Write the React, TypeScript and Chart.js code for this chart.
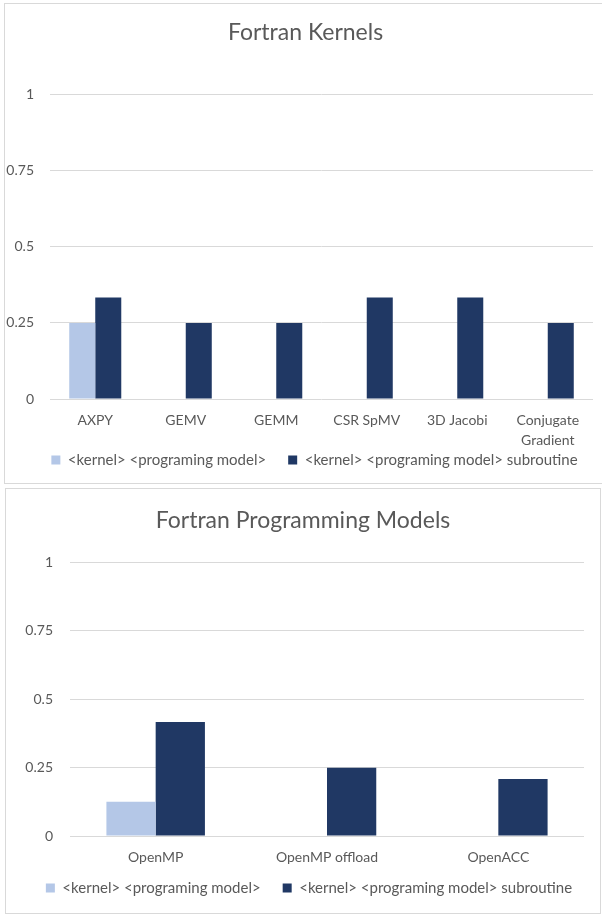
import React, { useEffect, useRef } from 'react';
import { Chart, registerables } from 'chart.js';

Chart.register(...registerables);

const kernelCategories: (string | string[])[] = ['AXPY', 'GEMV', 'GEMM', 'CSR SpMV', '3D Jacobi', ['Conjugate', 'Gradient']];
const kernelPlain = [0.25, 0, 0, 0, 0, 0];
const kernelSubroutine = [0.3333, 0.25, 0.25, 0.3333, 0.3333, 0.25];

const modelCategories: string[] = ['OpenMP', 'OpenMP offload', 'OpenACC'];
const modelPlain = [0.125, 0, 0];
const modelSubroutine = [0.4167, 0.25, 0.2083];

const seriesNames = ['<kernel> <programing model>', '<kernel> <programing model> subroutine'];
const yTickValues = [0, 0.25, 0.5, 0.75, 1];

const FONT = 'Lato, "Open Sans", sans-serif';
const TEXT = '#595959';
const GRID = '#d9d9d9';
const LIGHT = '#b4c7e7';
const DARK = '#203864';
const LEGEND_PAD = 22;
const LEGEND_FONT = 15;

interface Geo {
  titlePadTop: number;
  titlePadBottom: number;
  yWidth: number;
  yPad: number;
  xHeight: number;
  xPad: number;
  padRight: number;
  padBottom: number;
  legendReserve: number;
  legendCenter: number;
  titleShift: number;
  legendShift: number;
}

// Moves the title / legend boxes after Chart.js has laid them out.
const boxShift = {
  id: 'boxShift',
  afterLayout(chart: any, _args: any, opts: any) {
    const t = chart.titleBlock;
    if (t && opts.titleShift) {
      t.left += opts.titleShift;
      t.right += opts.titleShift;
    }
    const lg = chart.legend;
    if (lg) {
      lg.top = opts.legendCenter - LEGEND_PAD - LEGEND_FONT / 2;
      lg.height = 60;
      lg.bottom = lg.top + 60;
      lg.left += opts.legendShift || 0;
      lg.right += opts.legendShift || 0;
    }
  },
};

function makeConfig(title: string, labels: any[], plain: number[], sub: number[], g: Geo): any {
  return {
    type: 'bar',
    data: {
      labels,
      datasets: [
        { label: seriesNames[0], data: plain, backgroundColor: LIGHT, borderWidth: 0, categoryPercentage: 0.575, barPercentage: 1 },
        { label: seriesNames[1], data: sub, backgroundColor: DARK, borderWidth: 0, categoryPercentage: 0.575, barPercentage: 1 },
      ],
    },
    plugins: [boxShift],
    options: {
      animation: false,
      responsive: false,
      maintainAspectRatio: false,
      layout: { padding: { left: 0, right: g.padRight, top: 0, bottom: g.padBottom } },
      plugins: {
        boxShift: { titleShift: g.titleShift, legendShift: g.legendShift, legendCenter: g.legendCenter },
        title: {
          display: true,
          text: title,
          color: TEXT,
          font: { family: FONT, size: 23, weight: 'normal', lineHeight: 1.2 },
          padding: { top: g.titlePadTop, bottom: g.titlePadBottom },
        },
        legend: {
          position: 'bottom',
          maxHeight: g.legendReserve,
          labels: {
            color: TEXT,
            font: { family: FONT, size: LEGEND_FONT },
            boxWidth: 9,
            boxHeight: 9,
            padding: LEGEND_PAD,
          },
        },
        tooltip: { enabled: false },
      },
      scales: {
        x: {
          grid: { display: false, drawTicks: false },
          border: { display: false },
          ticks: { color: TEXT, font: { family: FONT, size: 14, lineHeight: 1.4 }, padding: g.xPad, maxRotation: 0, autoSkip: false },
          afterFit: (s: any) => { s.height = g.xHeight; },
        },
        y: {
          min: 0,
          max: 1,
          grid: { color: GRID, lineWidth: 1, drawTicks: false },
          border: { display: false },
          afterBuildTicks: (s: any) => { s.ticks = yTickValues.map((v) => ({ value: v })); },
          ticks: {
            color: TEXT,
            font: { family: FONT, size: 14 },
            padding: g.yPad,
            callback: (v: any) => String(v),
          },
          afterFit: (s: any) => { s.width = g.yWidth; },
        },
      },
    },
  };
}

function ChartBox(props: { style: React.CSSProperties; w: number; h: number; cfg: any }) {
  const ref = useRef<HTMLCanvasElement>(null);
  useEffect(() => {
    if (!ref.current) return;
    const c = new Chart(ref.current, props.cfg);
    return () => c.destroy();
  }, []);
  return (
    <div style={{ position: 'absolute', border: '1px solid #d9d9d9', background: '#fff', ...props.style }}>
      <canvas ref={ref} width={props.w} height={props.h} style={{ display: 'block', width: props.w, height: props.h }} />
    </div>
  );
}

export default function App() {
  const topCfg = makeConfig('Fortran Kernels', kernelCategories, kernelPlain, kernelSubroutine, {
    titlePadTop: 15, titlePadBottom: 48, yWidth: 45, yPad: 16, xHeight: 52, xPad: 12, padRight: 10, padBottom: 0,
    legendReserve: 32, legendCenter: 456, titleShift: 6.5, legendShift: 15.5,
  });
  const botCfg = makeConfig('Fortran Programming Models', modelCategories, modelPlain, modelSubroutine, {
    titlePadTop: 18, titlePadBottom: 28, yWidth: 64, yPad: 17, xHeight: 33, xPad: 12, padRight: 16, padBottom: 0,
    legendReserve: 44, legendCenter: 399, titleShift: 8, legendShift: 14,
  });
  return (
    <div style={{ position: 'absolute', left: 0, top: 0, width: 602, height: 916, background: '#fff', overflow: 'hidden' }}>
      <ChartBox style={{ left: 4, top: 3, borderRight: 'none' }} w={598} h={479} cfg={topCfg} />
      <ChartBox style={{ left: 5, top: 488 }} w={594} h={424} cfg={botCfg} />
    </div>
  );
}
